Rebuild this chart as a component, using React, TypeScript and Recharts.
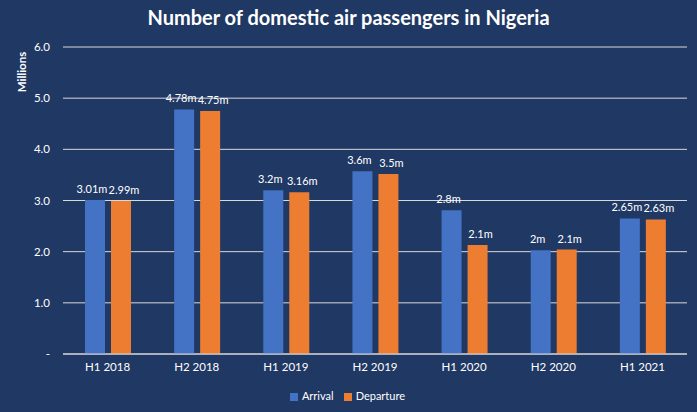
import React from 'react';
import { BarChart, Bar, XAxis, YAxis, CartesianGrid, Legend, LabelList } from 'recharts';

const categories = ['H1 2018', 'H2 2018', 'H1 2019', 'H2 2019', 'H1 2020', 'H2 2020', 'H1 2021'];
const arrivalValues = [3.01, 4.78, 3.2, 3.57, 2.81, 2.03, 2.65];
const departureValues = [2.99, 4.75, 3.16, 3.52, 2.13, 2.04, 2.63];
const arrivalLabels = ['3.01m', '4.78m', '3.2m', '3.6m', '2.8m', '2m', '2.65m'];
const departureLabels = ['2.99m', '4.75m', '3.16m', '3.5m', '2.1m', '2.1m', '2.63m'];
const yTicks = [0, 1, 2, 3, 4, 5, 6];

const data = categories.map((c, i) => ({
  name: c,
  Arrival: arrivalValues[i],
  Departure: departureValues[i],
  arrLabel: arrivalLabels[i],
  depLabel: departureLabels[i],
}));

const FONT = 'Lato, "Open Sans", sans-serif';
const BG = '#203864';

export default function App() {
  return (
    <div style={{ position: 'fixed', left: 0, top: 0, width: 697, height: 412, background: BG, fontFamily: FONT }}>
      <div style={{ position: 'absolute', top: 5, left: 0, width: 697, textAlign: 'center', color: '#fff', fontWeight: 'bold', fontSize: 20, fontFamily: FONT }}>
        Number of domestic air passengers in Nigeria
      </div>
      <div style={{ position: 'absolute', left: 21, top: 72, color: '#fff', fontSize: 11.5, fontWeight: 'bold', transform: 'translate(-50%, -50%) rotate(-90deg)', whiteSpace: 'nowrap' }}>
        Millions
      </div>
      <BarChart
        width={697}
        height={412}
        data={data}
        margin={{ top: 47, right: 10, bottom: 28, left: 0 }}
        barSize={20}
        barGap={6}
        style={{ position: 'absolute', left: 0, top: 0 }}
      >
        <CartesianGrid vertical={false} stroke="#D9D9D9" strokeWidth={1} />
        <XAxis
          dataKey="name"
          height={30}
          axisLine={{ stroke: '#D9D9D9' }}
          tickLine={false}
          tickSize={0}
          tickMargin={9}
          tick={{ fill: '#fff', fontSize: 11.5, fontFamily: FONT }}
        />
        <YAxis
          width={63}
          domain={[0, 6]}
          ticks={yTicks}
          axisLine={false}
          tickLine={false}
          tickSize={0}
          tickMargin={13}
          tickFormatter={(v: number) => (v === 0 ? '-' : v.toFixed(1))}
          tick={{ fill: '#fff', fontSize: 11.5, fontFamily: FONT }}
        />
        <Legend
          verticalAlign="middle"
          align="center"
          layout="horizontal"
          iconType="square"
          iconSize={8}
          wrapperStyle={{ position: 'absolute', top: 389, bottom: 'auto', left: 4, width: 697, fontSize: 11, fontFamily: FONT, lineHeight: '14px' }}
          formatter={(value: string) => <span style={{ color: '#fff' }}>{value}</span>}
        />
        <Bar dataKey="Arrival" fill="#4472C4" isAnimationActive={false}>
          <LabelList dataKey="arrLabel" position="top" offset={7} dx={-3} fill="#fff" fontSize={11} fontFamily={FONT} />
        </Bar>
        <Bar dataKey="Departure" fill="#ED7D31" isAnimationActive={false}>
          <LabelList dataKey="depLabel" position="top" offset={7} dx={3} fill="#fff" fontSize={11} fontFamily={FONT} />
        </Bar>
      </BarChart>
    </div>
  );
}
